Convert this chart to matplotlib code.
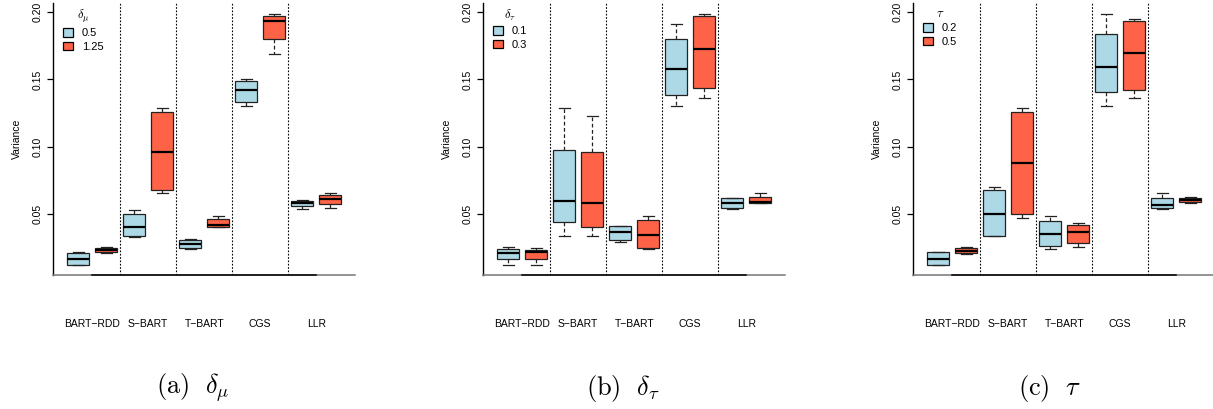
import numpy as np
import matplotlib.pyplot as plt
from matplotlib.patches import Patch

plt.rcParams['font.family'] = ['Liberation Sans', 'DejaVu Sans']
plt.rcParams['mathtext.fontset'] = 'cm'

methods = ['BART−RDD', 'S−BART', 'T−BART', 'CGS', 'LLR']

# five-number summaries per method: [whisker low, q1, median, q3, whisker high]
a_low = [[0.0124, 0.0124, 0.0171, 0.0211, 0.0218],
         [0.0334, 0.0337, 0.0408, 0.0505, 0.0534],
         [0.0240, 0.0248, 0.0277, 0.0307, 0.0317],
         [0.1303, 0.1333, 0.1419, 0.1488, 0.1506],
         [0.0542, 0.0562, 0.0581, 0.0596, 0.0608]]
a_high = [[0.0210, 0.0218, 0.0235, 0.0250, 0.0260],
          [0.0660, 0.0683, 0.0964, 0.1261, 0.1291],
          [0.0408, 0.0408, 0.0418, 0.0463, 0.0487],
          [0.1686, 0.1797, 0.1931, 0.1968, 0.1988],
          [0.0547, 0.0574, 0.0613, 0.0641, 0.0660]]

b_low = [[0.0124, 0.0166, 0.0211, 0.0240, 0.0260],
         [0.0342, 0.0440, 0.0599, 0.0974, 0.1291],
         [0.0292, 0.0309, 0.0366, 0.0413, 0.0413],
         [0.1303, 0.1387, 0.1577, 0.1797, 0.1913],
         [0.0539, 0.0544, 0.0581, 0.0618, 0.0623]]
b_high = [[0.0124, 0.0166, 0.0223, 0.0233, 0.0248],
          [0.0337, 0.0403, 0.0586, 0.0962, 0.1229],
          [0.0240, 0.0250, 0.0347, 0.0460, 0.0487],
          [0.1362, 0.1434, 0.1726, 0.1968, 0.1988],
          [0.0581, 0.0584, 0.0591, 0.0626, 0.0660]]

c_low = [[0.0124, 0.0124, 0.0171, 0.0218, 0.0223],
         [0.0337, 0.0337, 0.0505, 0.0680, 0.0700],
         [0.0240, 0.0267, 0.0354, 0.0450, 0.0487],
         [0.1303, 0.1407, 0.1595, 0.1837, 0.1988],
         [0.0539, 0.0544, 0.0571, 0.0621, 0.0660]]
c_high = [[0.0206, 0.0211, 0.0230, 0.0250, 0.0260],
          [0.0470, 0.0505, 0.0883, 0.1261, 0.1291],
          [0.0260, 0.0287, 0.0366, 0.0421, 0.0433],
          [0.1362, 0.1419, 0.1694, 0.1931, 0.1951],
          [0.0586, 0.0594, 0.0606, 0.0618, 0.0626]]

panels = [
    (a_low, a_high, ['0.5', '1.25'], r'$\delta_\mu$', r'$\mathrm{(a)}\ \ \delta_\mu$'),
    (b_low, b_high, ['0.1', '0.3'], r'$\delta_\tau$', r'$\mathrm{(b)}\ \ \delta_\tau$'),
    (c_low, c_high, ['0.2', '0.5'], r'$\tau$', r'$\mathrm{(c)}\ \ \tau$'),
]

colors = ['lightblue', 'tomato']
W, H = 1213, 409

fig = plt.figure(figsize=(W / 100, H / 100), dpi=100)

# left edge of each panel (px) and caption centre
lefts = [53, 483, 913]
caps = [193, 623, 1050]

for (low, high, levels, ltitle, caption), left, cx in zip(panels, lefts, caps):
    ax = fig.add_axes([left / W, (H - 275) / H, 302.4 / W, 271.8 / H])

    stats = []
    facecols = []
    for lo, hi in zip(low, high):
        for s, col in ((lo, colors[0]), (hi, colors[1])):
            stats.append(dict(whislo=s[0], q1=s[1], med=s[2], q3=s[3], whishi=s[4]))
            facecols.append(col)
    pos = np.arange(1, len(stats) + 1)

    bp = ax.bxp(stats, positions=pos, widths=0.8, patch_artist=True,
                showfliers=False, capwidths=0.4,
                boxprops=dict(edgecolor='#222222', linewidth=0.9),
                medianprops=dict(color='black', linewidth=1.6),
                whiskerprops=dict(color='#222222', linewidth=0.9, linestyle=(0, (3, 2))),
                capprops=dict(color='#222222', linewidth=0.9))
    for patch, col in zip(bp['boxes'], facecols):
        patch.set_facecolor(col)

    ax.set_xlim(0.1, len(stats) + 0.9)
    ax.set_ylim(0.005, 0.2065)

    # group separators
    for sep in pos[1:-1:2] + 0.5:
        ax.axvline(sep, color='black', linewidth=0.8, linestyle=(0, (1.5, 1.5)), zorder=0)

    centers = pos[::2] + 0.5
    ax.set_xticks(centers)
    ax.set_xticklabels(methods, fontsize=7.5)
    ax.tick_params(axis='x', length=0, pad=32)
    ax.plot([centers[0], centers[-1]], [0.005, 0.005], color='black',
            linewidth=1.1, clip_on=False, zorder=5)

    ax.set_yticks([0.05, 0.10, 0.15, 0.20])
    ax.set_yticklabels(['0.05', '0.10', '0.15', '0.20'], rotation=90, va='center', fontsize=7.5)
    ax.tick_params(axis='y', length=4.3, width=0.9, pad=3)
    ax.set_ylabel('Variance', fontsize=7.5, labelpad=8)

    for side in ['top', 'right']:
        ax.spines[side].set_visible(False)
    ax.spines['left'].set_linewidth(1.0)
    ax.spines['bottom'].set_color('#777777')
    ax.spines['bottom'].set_linewidth(1.1)

    handles = [Patch(facecolor=colors[0], edgecolor='black', linewidth=0.9),
               Patch(facecolor=colors[1], edgecolor='black', linewidth=0.9)]
    leg = ax.legend(handles, levels, title=ltitle, loc='upper left',
                    bbox_to_anchor=(0.0, 1.02), frameon=False, fontsize=8,
                    title_fontsize=9, handlelength=0.9, handleheight=0.8,
                    handletextpad=0.8, labelspacing=0.3, borderpad=0.4)

    fig.text(cx / W, 1 - 388 / H, caption, fontsize=19, ha='center', va='center')

fig.savefig('out.png', dpi=100)
